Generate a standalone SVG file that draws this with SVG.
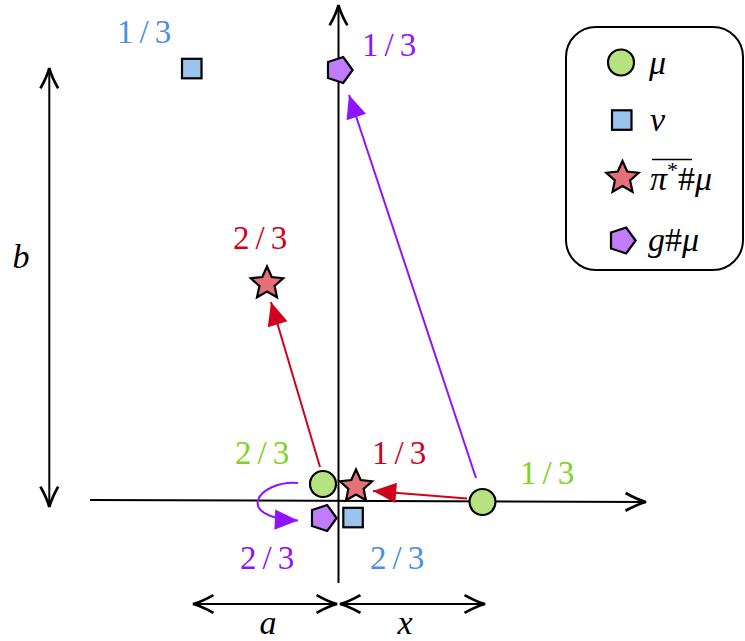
<svg xmlns="http://www.w3.org/2000/svg" width="745" height="641" viewBox="0 0 745 641">
<style>
.ax{stroke:#000;stroke-width:2;fill:none}
.sh{stroke:#000;stroke-width:2.2}
.g{fill:#b6e37f}
.b{fill:#9cc3ee}
.r{fill:#e5707a}
.p{fill:#c07cfc}
.fr{font-family:"Liberation Serif",serif;font-size:33px;letter-spacing:6px}
.it{font-family:"Liberation Serif",serif;font-size:34px;font-style:italic}
.tg{fill:#7ed321}.tb{fill:#4a90e2}.tr{fill:#d0021b}.tp{fill:#9013fe}
.ar{stroke:#d0021b;stroke-width:2;fill:none}
.ap{stroke:#9013fe;stroke-width:2;fill:none}
</style>
<defs>
<marker id="open" markerUnits="userSpaceOnUse" markerWidth="30" markerHeight="30" viewBox="-20 -10 22 20" refX="0" refY="0" orient="auto-start-reverse" overflow="visible">
<path d="M-15,-6.5 Q-6,-1.5 0,0 Q-6,1.5 -15,6.5" stroke="#000" stroke-width="2" fill="none"/>
</marker>
<marker id="mr" markerUnits="userSpaceOnUse" markerWidth="30" markerHeight="30" viewBox="-20 -10 22 20" refX="0" refY="0" orient="auto" overflow="visible">
<path d="M0,0 L-17,-7.5 L-17,7.5 Z" fill="#d0021b"/>
</marker>
<marker id="mp" markerUnits="userSpaceOnUse" markerWidth="30" markerHeight="30" viewBox="-20 -10 22 20" refX="0" refY="0" orient="auto" overflow="visible">
<path d="M0,0 L-17,-7.5 L-17,7.5 Z" fill="#9013fe"/>
</marker>
<polygon id="star" points="0,-17 4.7,-6.47 16.17,-5.25 7.61,2.47 9.99,13.75 0,8 -9.99,13.75 -7.61,2.47 -16.17,-5.25 -4.7,-6.47"/>
<polygon id="pent" points="13.6,0 4.2,12.93 -11,7.99 -11,-7.99 4.2,-12.93"/>
</defs>

<g id="axes">
<line class="ax" x1="90" y1="500" x2="646" y2="502" marker-end="url(#open)"/>
<line class="ax" x1="338.5" y1="583" x2="338.5" y2="5" marker-end="url(#open)"/>
<line class="ax" x1="49.3" y1="68" x2="49.3" y2="507" marker-start="url(#open)" marker-end="url(#open)"/>
<line class="ax" x1="193" y1="604" x2="337" y2="604" marker-start="url(#open)" marker-end="url(#open)"/>
<line class="ax" x1="340" y1="604" x2="485" y2="604" marker-start="url(#open)" marker-end="url(#open)"/>
</g>

<g id="connectors">
<line class="ar" x1="320" y1="467" x2="271" y2="302" marker-end="url(#mr)"/>
<line class="ar" x1="467" y1="498.5" x2="373" y2="491" marker-end="url(#mr)"/>
<line class="ap" x1="476" y1="478" x2="349" y2="95" marker-end="url(#mp)"/>
<path class="ap" d="M298,483 C258,480 232,518 298,520.5" marker-end="url(#mp)"/>
</g>

<g id="mu-left"><circle class="sh g" cx="323" cy="484" r="13"/></g>
<g id="mu-right"><circle class="sh g" cx="482.5" cy="502" r="13"/></g>
<g id="nu-top"><rect class="sh b" x="182" y="58.8" width="19.5" height="19.5"/></g>
<g id="nu-bottom"><rect class="sh b" x="343.3" y="507.8" width="19.5" height="19.5"/></g>
<g id="star-top"><use href="#star" class="sh r" x="267" y="283.5"/></g>
<g id="star-bottom"><use href="#star" class="sh r" x="356" y="486.5"/></g>
<g id="pent-top"><use href="#pent" class="sh p" x="339" y="70"/></g>
<g id="pent-bottom"><use href="#pent" class="sh p" x="323" y="518"/></g>

<g id="labels">
<text class="fr tb" x="117" y="43">1/3</text>
<text class="fr tp" x="362" y="56">1/3</text>
<text class="fr tr" x="233" y="249">2/3</text>
<text class="fr tg" x="235" y="464">2/3</text>
<text class="fr tr" x="372" y="464">1/3</text>
<text class="fr tg" x="520" y="484">1/3</text>
<text class="fr tp" x="240" y="569">2/3</text>
<text class="fr tb" x="370" y="569">2/3</text>
<text class="it" x="21" y="268" text-anchor="middle">b</text>
<text class="it" x="268" y="634" text-anchor="middle">a</text>
<text class="it" x="405" y="634" text-anchor="middle">x</text>
</g>

<g id="legend">
<rect x="566" y="27" width="177" height="243" rx="30" ry="30" fill="#fff" stroke="#000" stroke-width="2"/>
<circle class="sh g" cx="621" cy="62.5" r="13"/>
<text class="it" x="649" y="74">μ</text>
<rect class="sh b" x="612" y="110.3" width="19.5" height="19.5"/>
<text class="it" x="650" y="131">ν</text>
<use href="#star" class="sh r" x="622.5" y="178"/>
<text class="it" x="650" y="190">π<tspan font-style="normal" font-size="22" dy="-13">*</tspan><tspan font-style="normal" dy="13">#</tspan>μ</text>
<line x1="652" y1="159.5" x2="692" y2="159.5" stroke="#000" stroke-width="1.6"/>
<use href="#pent" class="sh p" x="622" y="240.5"/>
<text class="it" x="648" y="251">g<tspan font-style="normal">#</tspan>μ</text>
</g>
</svg>
